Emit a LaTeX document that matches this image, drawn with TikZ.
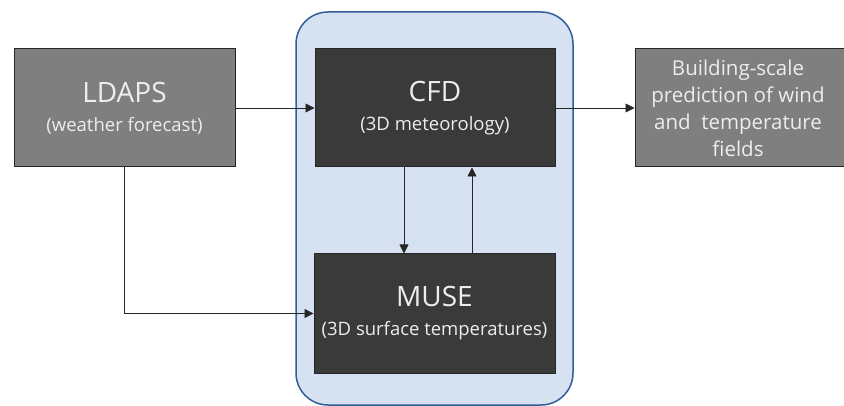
\documentclass[tikz,border=0pt]{standalone}
\usepackage{fontspec}
\setmainfont{Open Sans}
\usetikzlibrary{arrows.meta,positioning}

\definecolor{boxgray}{HTML}{7F7F7F}
\definecolor{boxdark}{HTML}{3A3A3A}
\definecolor{panelfill}{HTML}{D6E2F1}
\definecolor{paneldraw}{HTML}{2F5F98}

\begin{document}
\begin{tikzpicture}[x=1pt,y=-1pt,
  block/.style={draw=black!85, line width=1pt, text=white!93!black, align=center, minimum height=118pt, inner sep=2pt, font=\fontsize{18.5}{29}\selectfont},
  flow/.style={-{Triangle[length=9pt,width=9pt]}, draw=black!85, line width=0.8pt},
]
\useasboundingbox (0,0) rectangle (844,406);

% coupling panel
\draw[fill=panelfill, draw=paneldraw, line width=1.5pt, rounded corners=32pt] (296,12) rectangle (573,405);

\node[block, fill=boxgray, minimum width=221pt] (ldaps) at (124.5,108)
  {{\fontsize{28}{32}\selectfont LDAPS}\\(weather forecast)};
\node[block, fill=boxdark, minimum width=240pt] (cfd) at (435,108)
  {{\fontsize{28}{32}\selectfont CFD}\\(3D meteorology)};
\node[block, fill=boxdark, minimum width=241pt, minimum height=119pt] (muse) at (434.5,313.5)
  {{\fontsize{28}{32}\selectfont MUSE}\\(3D surface temperatures)};
\node[block, fill=boxgray, minimum width=212pt, font=\fontsize{20.5}{27}\selectfont] (pred) at (741,108)
  {\hspace*{-6pt}Building-scale\\\hspace*{-6pt}prediction of wind\\\hspace*{-6pt}and\ \ temperature\\\hspace*{-6pt}fields};

\draw[flow] (ldaps.east) -- (cfd.west);
\draw[flow] (cfd.east) -- (pred.west);
\draw[flow] ([xshift=-31pt]cfd.south) -- ([xshift=-30.5pt]muse.north);
\draw[flow] ([xshift=37.5pt]muse.north) -- ([xshift=37pt]cfd.south);
\draw[flow] (ldaps.south) |- (muse.west);

\end{tikzpicture}
\end{document}
